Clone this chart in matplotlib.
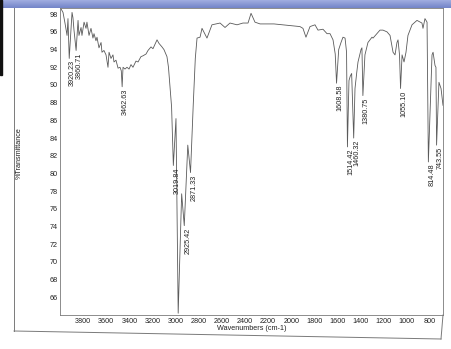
import numpy as np
import matplotlib
matplotlib.use('Agg')
import matplotlib.pyplot as plt
from matplotlib.lines import Line2D
from matplotlib.patches import Rectangle

# ---------------------------------------------------------------------------
# Data (descending wavenumber)
# ---------------------------------------------------------------------------
wavenumber = [
    3995, 3974, 3957, 3939, 3931, 3920.23, 3896, 3888, 3879, 3860.71,
    3844, 3836, 3818, 3810, 3792, 3775, 3767, 3749, 3732, 3715,
    3706, 3689, 3680, 3663, 3645, 3637, 3620, 3602, 3585, 3576,
    3559, 3542, 3533, 3516, 3498, 3481, 3470, 3462.63, 3455, 3438,
    3421, 3403, 3386, 3369, 3343, 3325, 3300, 3282, 3256, 3239,
    3213, 3196, 3178, 3161, 3144, 3118, 3101, 3075, 3062, 3035,
    3019.84, 2997, 2978, 2948, 2925.42, 2895, 2871.33, 2848, 2830, 2815,
    2789, 2772, 2729, 2686, 2616, 2573, 2530, 2469, 2418, 2374,
    2348, 2314, 2270, 2150, 2072, 1925, 1899, 1873, 1838, 1795,
    1769, 1726, 1691, 1665, 1639, 1620, 1608.58, 1590, 1570, 1553,
    1535, 1522, 1514.42, 1501, 1490, 1478, 1460.32, 1449, 1434, 1423,
    1397, 1389, 1380.75, 1363, 1337, 1302, 1293, 1259, 1233, 1207,
    1172, 1146, 1120, 1103, 1086, 1077, 1064, 1055.10, 1042, 1025,
    1008, 991, 956, 913, 870, 861, 844, 826, 814.48, 783,
    774, 757, 749, 743.55, 723, 705, 688,
]
transmittance = [
    98.7, 98.2, 97.0, 95.6, 97.5, 93.0, 98.2, 97.6, 96.2, 93.9,
    97.3, 95.6, 96.5, 95.6, 97.1, 96.4, 97.1, 95.6, 96.4, 95.3,
    95.8, 95.0, 95.4, 94.2, 94.8, 93.7, 93.9, 93.4, 92.0, 93.7,
    93.0, 93.4, 92.6, 92.8, 91.9, 92.0, 91.6, 89.8, 92.0, 91.8,
    92.0, 91.8, 92.3, 92.0, 92.7, 92.6, 93.2, 93.3, 93.5, 93.9,
    94.3, 94.1, 94.6, 95.1, 94.7, 94.3, 94.0, 93.2, 92.0, 87.5,
    80.9, 86.2, 64.2, 77.7, 74.1, 83.2, 80.1, 87.7, 93.0, 95.3,
    95.4, 96.4, 95.3, 96.8, 97.0, 96.5, 97.0, 96.8, 97.0, 97.0,
    98.1, 97.1, 96.9, 96.9, 96.8, 96.6, 96.4, 95.4, 96.6, 96.8,
    96.2, 96.3, 95.8, 95.8, 95.1, 93.5, 90.2, 94.0, 94.8, 95.4,
    95.3, 93.7, 83.0, 90.5, 91.0, 91.3, 84.0, 89.6, 91.4, 92.6,
    94.0, 94.2, 88.8, 93.4, 94.8, 95.4, 95.3, 95.8, 96.2, 96.2,
    96.0, 95.6, 93.7, 93.4, 94.8, 95.1, 93.4, 89.6, 93.4, 92.6,
    93.7, 95.6, 96.8, 97.3, 97.0, 96.4, 97.5, 97.1, 81.3, 93.4,
    93.7, 92.2, 92.0, 83.2, 90.3, 89.6, 87.7,
]

peak_wn = [3920.23, 3860.71, 3462.63, 3019.84, 2925.42, 2871.33, 1608.58,
           1514.42, 1460.32, 1380.75, 1055.10, 814.48, 743.55]
peak_labels = ['3920.23', '3860.71', '3462.63', '3019.84', '2925.42', '2871.33',
               '1608.58', '1514.42', '1460.32', '1380.75', '1055.10', '814.48',
               '743.55']

x_ticks = list(range(3800, 700, -200))
y_ticks = list(range(66, 99, 2))

NARROW = ['Liberation Sans Narrow', 'Liberation Sans', 'DejaVu Sans']
LINE_GREY = '#5a5a5a'
FRAME_GREY = '#7a7a7a'

fig = plt.figure(figsize=(4.52, 3.49), dpi=100)
W, H = 452.0, 349.0


def fx(px):
    return px / W


def fy(py):
    return 1 - py / H


ax = fig.add_axes([fx(60), fy(315), fx(443) - fx(60), fy(8) - fy(315)])
ax.plot(wavenumber, transmittance, color=LINE_GREY, linewidth=0.6)
ax.set_xlim(4000, 688)
ax.set_ylim(64.0, 98.7)

ax.set_xticks(x_ticks)
ax.set_xticklabels([str(t) for t in x_ticks])
ax.set_yticks(y_ticks)
ax.set_yticklabels([str(t) for t in y_ticks])
ax.tick_params(axis='both', length=0, labelsize=5.2, colors='#222222')
ax.tick_params(axis='x', pad=2.5)
ax.tick_params(axis='y', pad=1.5)
for lab in ax.get_xticklabels() + ax.get_yticklabels():
    lab.set_family(NARROW)
for side in ('left', 'bottom', 'right', 'top'):
    ax.spines[side].set_color(FRAME_GREY)
    ax.spines[side].set_linewidth(0.6)

# Peak labels hang vertically just below each minimum
inc_wn = np.array(wavenumber)[::-1]
inc_t = np.array(transmittance)[::-1]
for p, lab in zip(peak_wn, peak_labels):
    t = np.interp(p, inc_wn, inc_t)
    ax.text(p, t - 0.2, lab, rotation=90, ha='left', va='top',
            fontsize=5.2, family=NARROW, color='#222222', clip_on=True)

fig.text(fx(19), fy(153), '%Transmittance', rotation=90, ha='center',
         va='center', fontsize=5.2, family=NARROW, color='#222222')
fig.text(fx(252), fy(329), 'Wavenumbers (cm-1)', ha='center', va='center',
         fontsize=5.2, family=NARROW, color='#222222')

# Outer frame of the printout (slightly skewed in the scan)
for (x0, y0), (x1, y1) in [((14, 8), (14, 331)),
                           ((14, 331), (441, 339)),
                           ((443, 315), (441, 339))]:
    fig.add_artist(Line2D([fx(x0), fx(x1)], [fy(y0), fy(y1)],
                          transform=fig.transFigure, color=FRAME_GREY,
                          linewidth=0.7))

# Blue title strip across the top of the scan
bar = fig.add_axes([0, fy(8), 1, fy(0) - fy(8)])
grad = np.linspace(0, 1, 8).reshape(-1, 1)
bar.imshow(grad, aspect='auto', cmap=matplotlib.colors.LinearSegmentedColormap
           .from_list('bar', ['#9eabdf', '#7586c9']), extent=[0, 1, 0, 1])
bar.set_axis_off()

# dark scanner edge at the top-left
fig.add_artist(Rectangle((0, fy(75)), fx(2), fy(0) - fy(75),
                         transform=fig.transFigure, color='#111111'))

fig.savefig('out.png', dpi=100)
